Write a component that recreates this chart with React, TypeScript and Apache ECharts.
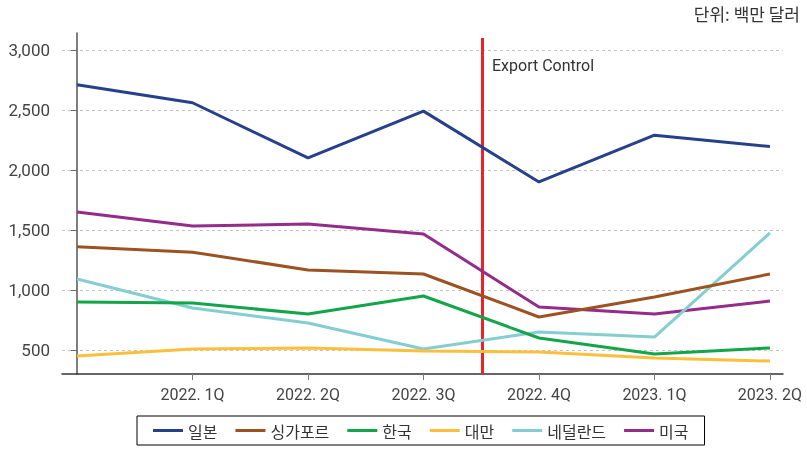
import React, { useEffect, useRef } from "react";
import * as echarts from "echarts";

const categories = ["", "2022. 1Q", "2022. 2Q", "2022. 3Q", "2022. 4Q", "2023. 1Q", "2023. 2Q"];
const seriesNames = ["일본", "싱가포르", "한국", "대만", "네덜란드", "미국"];
const japan = [2710, 2560, 2100, 2490, 1900, 2290, 2195];
const singapore = [1360, 1315, 1167, 1133, 775, 942, 1133];
const korea = [900, 891, 800, 950, 600, 467, 517];
const taiwan = [450, 508, 517, 492, 483, 433, 408];
const netherlands = [1092, 850, 725, 508, 650, 608, 1475];
const usa = [1650, 1533, 1550, 1467, 858, 800, 908];
const yTicks = [500, 1000, 1500, 2000, 2500, 3000];
const xTicks = [1, 2, 3, 4, 5, 6];
const exportControlX = 3.51;
const unitText = "단위: 백만 달러";
const annotationText = "Export Control";

const colors = ["#27408b", "#9c5221", "#14a44a", "#fbbf3c", "#84cdd1", "#952b8a"];
const allData = [japan, singapore, korea, taiwan, netherlands, usa];

export default function App() {
  const ref = useRef<HTMLDivElement>(null);
  useEffect(() => {
    if (!ref.current) return;
    const chart = echarts.init(ref.current, undefined, { renderer: "svg" });
    const series: any[] = allData.map((vals, i) => ({
      name: seriesNames[i],
      type: "line",
      data: vals.map((v, j) => [j, v]),
      symbol: "none",
      lineStyle: { width: 3, color: colors[i] },
      itemStyle: { color: colors[i] },
      z: 10 - i,
    }));
    series[0].markLine = {
      silent: true,
      symbol: "none",
      label: { show: false },
      lineStyle: { color: "#e8242b", width: 3, type: "solid" },
      data: [[{ coord: [exportControlX, 3100] }, { coord: [exportControlX, 300] }]],
    };
    chart.setOption({
      animation: false,
      color: colors,
      grid: { left: 62, right: 24, top: 33, bottom: 75 },
      xAxis: {
        type: "value",
        min: -0.13,
        max: 6.113,
        axisLine: { lineStyle: { color: "#333", width: 1.5 } },
        axisTick: { show: true, length: 6, lineStyle: { color: "#777" }, customValues: xTicks },
        axisLabel: {
          customValues: xTicks,
          formatter: (v: number) => categories[Math.round(v)] || "",
          color: "#444",
          fontFamily: "Roboto",
          fontSize: 16,
          margin: 12,
        },
        splitLine: { show: false },
      },
      yAxis: {
        type: "value",
        min: 300,
        max: 3141,
        axisLine: { show: true, lineStyle: { color: "#555", width: 1.5 } },
        axisTick: { show: true, length: 6, lineStyle: { color: "#666" }, customValues: yTicks },
        axisLabel: {
          customValues: yTicks,
          color: "#444",
          fontFamily: "Roboto",
          fontSize: 17,
          margin: 12,
        },
        splitLine: { show: true, lineStyle: { color: "#c4c4c4", type: [3, 3], width: 1 } },
      },
      legend: {
        left: 137,
        top: 416,
        padding: [5, 16],
        borderColor: "#000",
        borderWidth: 1,
        icon: "rect",
        itemWidth: 30,
        itemHeight: 3,
        itemGap: 18,
        textStyle: { fontFamily: "Noto Sans CJK KR", fontSize: 16, color: "#333", lineHeight: 19 },
        data: seriesNames,
      },
      graphic: [
        {
          type: "text",
          right: 7,
          top: 5,
          style: { text: unitText, fontFamily: "Noto Sans CJK KR", fontSize: 17, fill: "#333" },
        },
        {
          type: "text",
          left: 492,
          top: 57,
          style: { text: annotationText, fontFamily: "Roboto", fontSize: 16, fill: "#333" },
        },
      ],
      series,
    });
    return () => chart.dispose();
  }, []);
  return <div ref={ref} style={{ width: 807, height: 449, position: "fixed", left: 0, top: 0 }} />;
}
